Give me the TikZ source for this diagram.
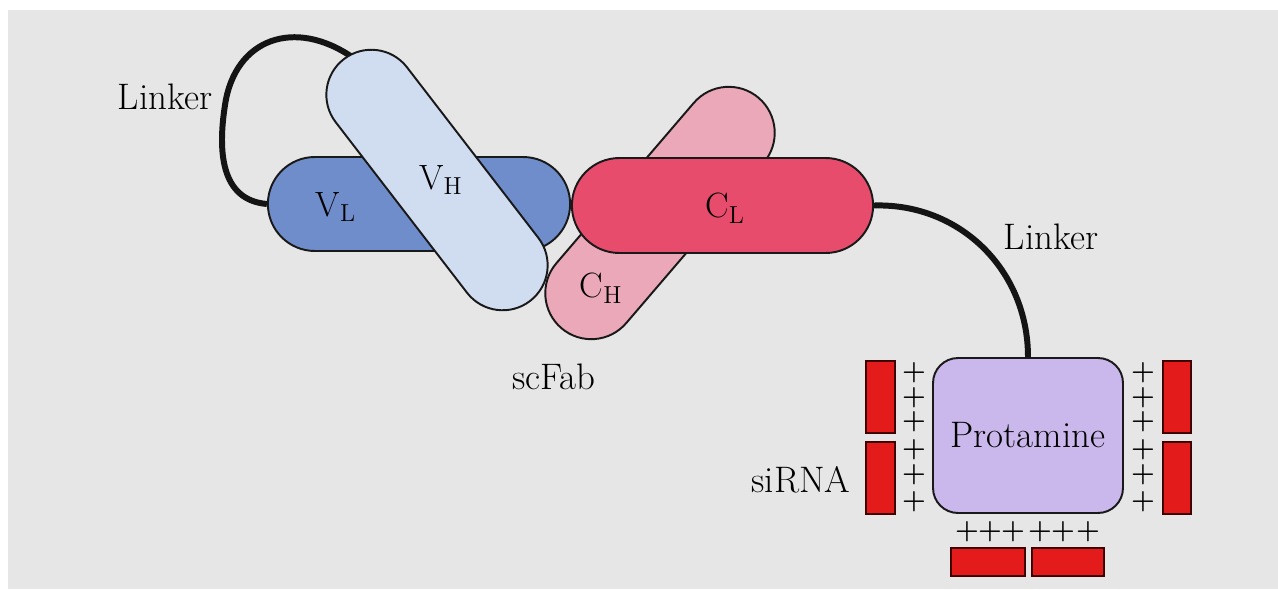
\documentclass[tikz,border=0pt]{standalone}
\usepackage{fontspec}
\usepackage{xcolor}
\usepackage{tikz}
\usetikzlibrary{shapes.misc}

\definecolor{bgGrey}{HTML}{E6E6E6}
\definecolor{vlBlue}{HTML}{708DCB}
\definecolor{vhBlue}{HTML}{D0DDF1}
\definecolor{clRed}{HTML}{E74C6D}
\definecolor{chPink}{HTML}{EAA8B8}
\definecolor{protLilac}{HTML}{CAB7EB}
\definecolor{sirnaRed}{HTML}{E31B1B}

\tikzset{
	fabpart/.style={shape=rounded rectangle, draw=black!90, line width=1.1pt},
	linker/.style={line width=3.4pt, black!92},
	sirna/.style={shape=rectangle, draw=black!75!red, line width=1pt, fill=sirnaRed},
	lbl/.style={font=\fontsize{21}{25}\selectfont, inner sep=0pt},
	sublbl/.style={font=\fontsize{20}{24}\selectfont, inner sep=0pt},
	plus/.style={font=\fontsize{15.5}{17}\selectfont\bfseries, inner sep=0pt}
}

\begin{document}
\begin{tikzpicture}[x=0.02cm, y=-0.02cm]
	% Background:
	\fill[white] (0, 0) rectangle (1278, 589);
	\fill[bgGrey] (8, 10) rectangle (1278, 589);
	\useasboundingbox (0, 0) rectangle (1278, 589);
	% Paths, nodes and wires:
	\node[fabpart, fill=chPink, minimum width=6.3cm, minimum height=1.84cm, rotate=49.4] (CH) at (660, 213){};
	\node[fabpart, fill=clRed, minimum width=6.26cm, minimum height=1.9cm] (CL) at (722.5, 205.5){};
	\node[fabpart, fill=vlBlue, minimum width=6.28cm, minimum height=1.88cm] (VL) at (419, 204){};
	\coordinate (loopend) at (352, 57);
	\draw[linker] (VL.west) .. controls (220, 200) and (218, 150) .. (225, 105) .. controls (235, 38) and (295, 18) .. (loopend);
	\node[fabpart, fill=vhBlue, minimum width=6.34cm, minimum height=1.8cm, rotate=-52.4] (VH) at (437, 180){};
	\node[sublbl] (VLtext) at (336, 207){$\mathrm{V_L}$};
	\node[sublbl] (VHtext) at (441, 180){$\mathrm{V_H}$};
	\node[sublbl] (CLtext) at (725, 208){$\mathrm{C_L}$};
	\node[sublbl] (CHtext) at (601, 288){$\mathrm{C_H}$};
	\node[shape=rectangle, rounded corners=0.5cm, draw=black!90, line width=1.1pt, fill=protLilac, minimum width=3.8cm, minimum height=3.1cm, lbl] (prot) at (1028, 435.5){Protamine};
	\draw[linker] (CL.east) .. controls (960, 203) and (1028, 270) .. (prot.north);
	\node[lbl] (linkerA) at (165, 97){Linker};
	\node[lbl] (linkerB) at (1051, 237){Linker};
	\node[lbl] (scfab) at (554, 377){scFab};
	\node[lbl] (sirnaText) at (801, 480){siRNA};
	% siRNA bars:
	\node[sirna, minimum width=0.58cm, minimum height=1.44cm] (sirnaL1) at (880.5, 397){};
	\node[sirna, minimum width=0.58cm, minimum height=1.44cm] (sirnaL2) at (880.5, 478){};
	\node[sirna, minimum width=0.56cm, minimum height=1.44cm] (sirnaR1) at (1177, 397){};
	\node[sirna, minimum width=0.56cm, minimum height=1.44cm] (sirnaR2) at (1177, 478){};
	\node[sirna, minimum width=1.48cm, minimum height=0.56cm] (sirnaB1) at (988, 562){};
	\node[sirna, minimum width=1.44cm, minimum height=0.56cm] (sirnaB2) at (1068, 562){};
	% Charges:
	\foreach \y [count=\i] in {373, 398, 422, 450, 475, 502}{
		\node[plus] (plusL\i) at (914, \y){+};
		\node[plus] (plusR\i) at (1143, \y){+};
	}
	\foreach \x [count=\i] in {967, 990, 1013, 1040, 1063, 1088}{
		\node[plus] (plusB\i) at (\x, 532){+};
	}
\end{tikzpicture}
\end{document}
